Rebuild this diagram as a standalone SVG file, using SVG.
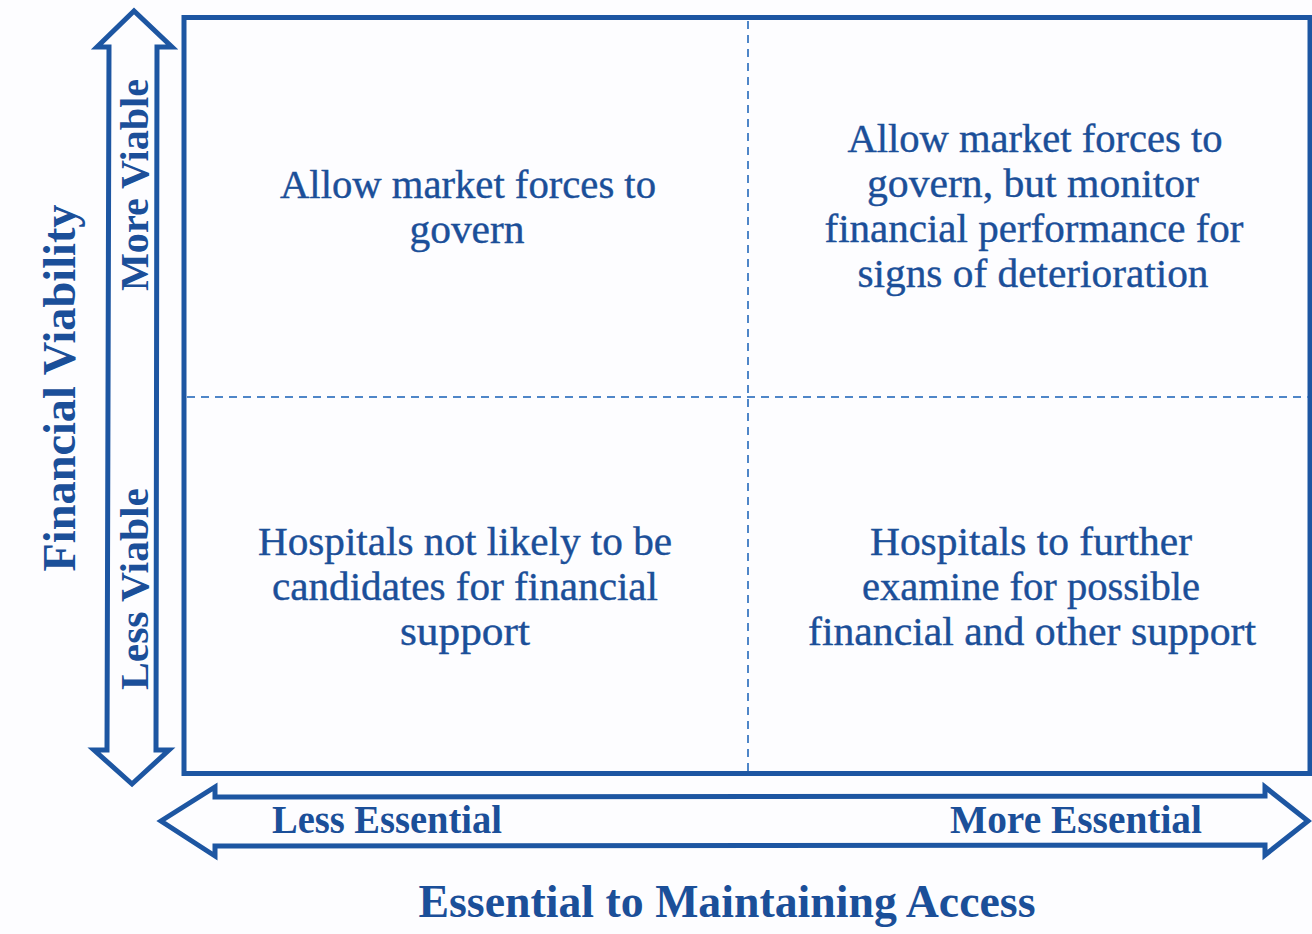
<svg xmlns="http://www.w3.org/2000/svg" width="1312" height="934" viewBox="0 0 1312 934">
<style>
.frame{fill:none;stroke:#1d56a2;stroke-width:5;stroke-linejoin:miter}
.dash{fill:none;stroke:#4f86c8;stroke-width:2;stroke-dasharray:8 6}
.q{font-family:"Liberation Serif","Times New Roman",serif;font-size:40px;fill:#1b4f99;stroke:#1b4f99;stroke-width:0.4;text-anchor:middle}
.ax{font-family:"Liberation Serif","Times New Roman",serif;font-weight:bold;font-size:40px;fill:#1b4f99;text-anchor:middle}
.title{font-family:"Liberation Serif","Times New Roman",serif;font-weight:bold;font-size:46px;fill:#1b4f99;text-anchor:middle}
</style>
<rect x="0" y="0" width="1312" height="934" fill="#fdfdff"/>
<g id="grid">
<rect class="frame" x="184" y="17.5" width="1126" height="756"/>
</g>
<g id="connectors">
<line class="dash" x1="748" y1="21" x2="748" y2="771"/>
<line class="dash" x1="187" y1="397" x2="1308" y2="397"/>
<polygon id="vertical-arrow" class="frame" points="109,47 97,47 134,11 172,47 157,47 156,750 169,750 132,784 94,750 107,750"/>
<polygon id="horizontal-arrow" class="frame" points="215,797 215,787 161,821 215,856 215,846 1265,845 1265,855 1308,821 1265,787 1265,796"/>
</g>
<g id="axis-labels">
<text class="title" transform="translate(75,388) rotate(-90)" textLength="367" lengthAdjust="spacingAndGlyphs">Financial Viability</text>
<text class="ax" transform="translate(148,185) rotate(-90)" textLength="212" lengthAdjust="spacingAndGlyphs">More Viable</text>
<text class="ax" transform="translate(148,589) rotate(-90)" textLength="202" lengthAdjust="spacingAndGlyphs">Less Viable</text>
<text class="ax" x="387" y="833" textLength="230" lengthAdjust="spacingAndGlyphs">Less Essential</text>
<text class="ax" x="1076" y="833" textLength="252" lengthAdjust="spacingAndGlyphs">More Essential</text>
<text class="title" x="727" y="917" textLength="617" lengthAdjust="spacingAndGlyphs">Essential to Maintaining Access</text>
</g>
<g id="q-top-left">
<text class="q" x="468" y="198" textLength="376" lengthAdjust="spacingAndGlyphs">Allow market forces to</text>
<text class="q" x="467" y="243" textLength="115" lengthAdjust="spacingAndGlyphs">govern</text>
</g>
<g id="q-top-right">
<text class="q" x="1035" y="152" textLength="375" lengthAdjust="spacingAndGlyphs">Allow market forces to</text>
<text class="q" x="1033" y="197" textLength="332" lengthAdjust="spacingAndGlyphs">govern, but monitor</text>
<text class="q" x="1034" y="242" textLength="419" lengthAdjust="spacingAndGlyphs">financial performance for</text>
<text class="q" x="1033" y="287" textLength="351" lengthAdjust="spacingAndGlyphs">signs of deterioration</text>
</g>
<g id="q-bottom-left">
<text class="q" x="465" y="555" textLength="414" lengthAdjust="spacingAndGlyphs">Hospitals not likely to be</text>
<text class="q" x="465" y="600" textLength="386" lengthAdjust="spacingAndGlyphs">candidates for financial</text>
<text class="q" x="465" y="645" textLength="130" lengthAdjust="spacingAndGlyphs">support</text>
</g>
<g id="q-bottom-right">
<text class="q" x="1031" y="555" textLength="322" lengthAdjust="spacingAndGlyphs">Hospitals to further</text>
<text class="q" x="1031" y="600" textLength="338" lengthAdjust="spacingAndGlyphs">examine for possible</text>
<text class="q" x="1032" y="645" textLength="448" lengthAdjust="spacingAndGlyphs">financial and other support</text>
</g>
</svg>
